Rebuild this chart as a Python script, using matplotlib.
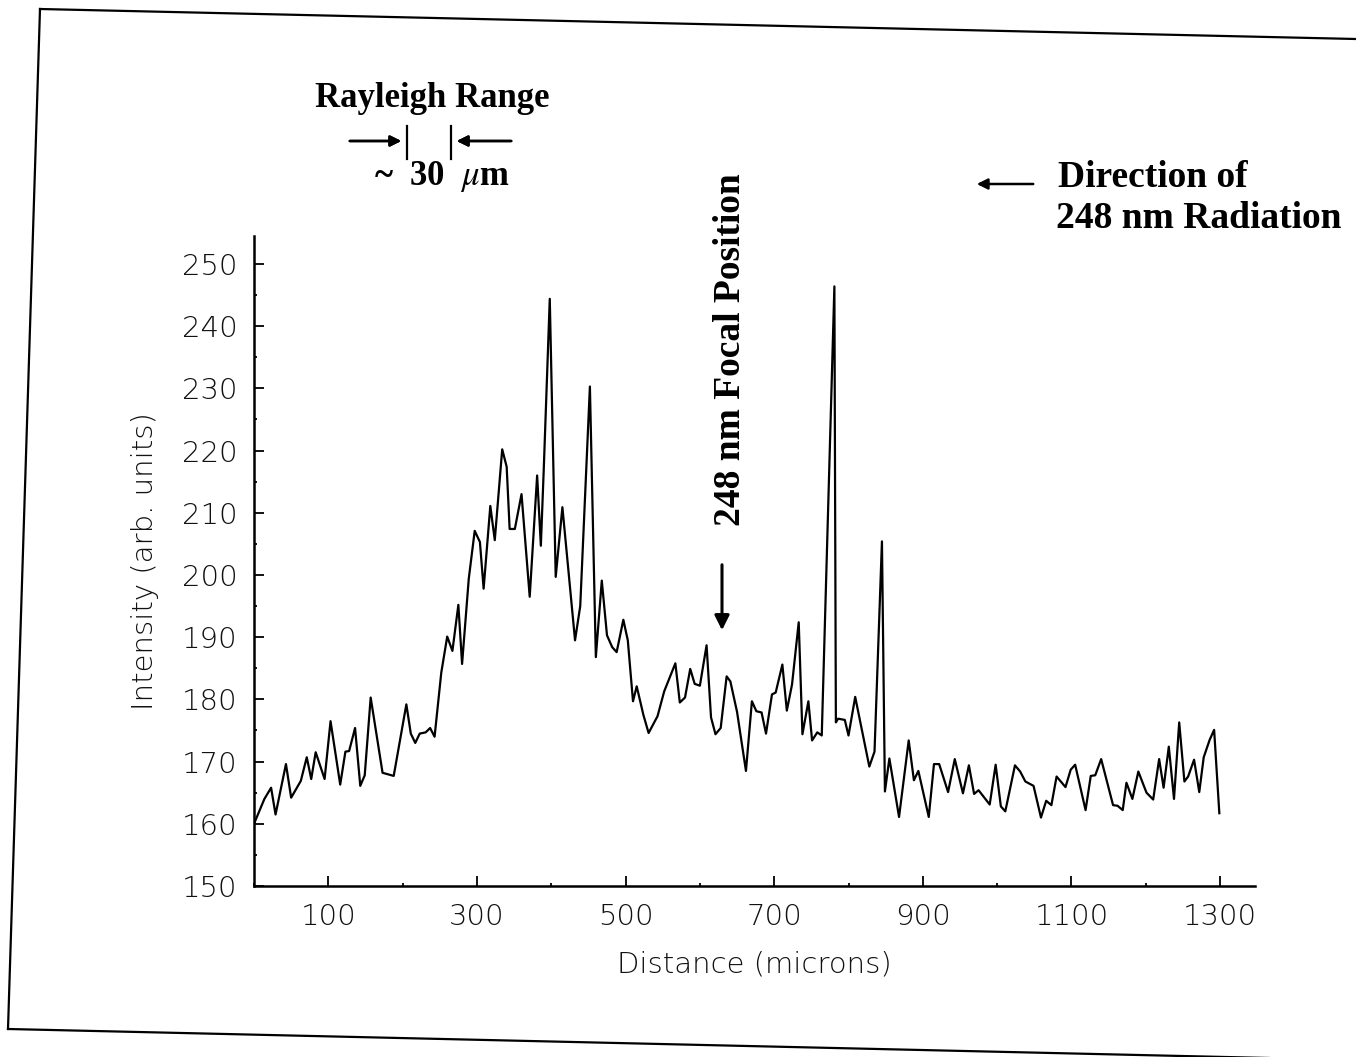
import numpy as np
import matplotlib
matplotlib.use("Agg")
import matplotlib.pyplot as plt
from matplotlib.lines import Line2D
from matplotlib.ticker import MultipleLocator

plt.rcParams["mathtext.fontset"] = "stix"

# intensity profile (distance in microns, intensity arb. units)
distance = [0, 14, 23, 29, 43, 50, 63, 71, 77, 83, 95, 103, 116, 123, 128, 136, 143, 149,
            157, 173, 188, 205, 211, 217, 223, 231, 237, 243, 252, 260, 267, 275, 280, 289,
            297, 304, 309, 318, 324, 334, 340, 344, 351, 360, 371, 381, 386, 390, 398, 406,
            415, 432, 439, 452, 460, 468, 475, 482, 488, 497, 503, 510, 515, 524, 531, 543,
            552, 567, 573, 580, 587, 593, 600, 609, 615, 621, 628, 636, 641, 650, 662, 670,
            676, 683, 689, 697, 702, 711, 717, 724, 733, 738, 746, 751, 758, 764, 781, 783,
            786, 795, 800, 809, 828, 835, 845, 849, 855, 868, 881, 888, 894, 908, 915, 922,
            934, 943, 954, 962, 969, 975, 990, 998, 1005, 1011, 1024, 1031, 1038, 1049, 1059,
            1066, 1073, 1080, 1092, 1099, 1105, 1119, 1126, 1132, 1140, 1156, 1162, 1169,
            1174, 1182, 1190, 1201, 1210, 1218, 1224, 1231, 1238, 1245, 1252, 1257, 1265,
            1272, 1278, 1286, 1292, 1299]
intensity = [160.0, 164.0, 165.8, 161.5, 169.6, 164.2, 166.9, 170.7, 167.2, 171.5, 167.2,
             176.5, 166.3, 171.6, 171.7, 175.4, 166.1, 167.8, 180.3, 168.2, 167.7, 179.2,
             174.5, 173.0, 174.5, 174.7, 175.4, 174.0, 184.3, 190.1, 187.8, 195.2, 185.7,
             199.4, 207.1, 205.3, 197.8, 211.1, 205.6, 220.2, 217.4, 207.4, 207.4, 213.0,
             196.5, 216.0, 204.7, 217.3, 244.4, 199.7, 210.9, 189.5, 195.0, 230.3, 186.8,
             199.1, 190.3, 188.4, 187.6, 192.8, 189.5, 179.7, 182.1, 177.5, 174.6, 177.3,
             181.3, 185.8, 179.5, 180.3, 184.9, 182.5, 182.2, 188.7, 177.1, 174.4, 175.4,
             183.7, 182.9, 178.0, 168.5, 179.7, 178.1, 177.9, 174.5, 180.8, 181.1, 185.6,
             178.2, 182.4, 192.4, 174.4, 179.7, 173.4, 174.7, 174.2, 246.4, 176.3, 176.9,
             176.7, 174.2, 180.4, 169.2, 171.6, 205.4, 165.2, 170.5, 161.1, 173.4, 167.0,
             168.5, 161.1, 169.6, 169.6, 165.1, 170.4, 164.9, 169.4, 164.8, 165.4, 163.1,
             169.5, 162.8, 162.0, 169.4, 168.4, 166.8, 166.1, 161.0, 163.7, 163.0, 167.6,
             165.9, 168.7, 169.5, 162.2, 167.7, 167.8, 170.4, 163.0, 162.9, 162.2, 166.6,
             164.0, 168.4, 165.0, 163.9, 170.4, 165.8, 172.4, 164.0, 176.3, 166.8, 167.6,
             170.3, 165.1, 170.7, 173.5, 175.1, 161.7]

x_ticks = [100, 300, 500, 700, 900, 1100, 1300]
y_ticks = list(range(150, 251, 10))

W, H = 1356, 1057

def fx(px):
    return px / W

def fy(py):
    return 1 - py / H

fig = plt.figure(figsize=(W / 100, H / 100), dpi=100)
ax = fig.add_axes([fx(254), fy(886), fx(1255) - fx(254), fy(236) - fy(886)])

ax.plot(distance, intensity, color="black", lw=1.6)

ax.set_xlim(0, 1347)
ax.set_ylim(150, 254.5)
ax.set_xticks(x_ticks)
ax.set_yticks(y_ticks)
ax.xaxis.set_minor_locator(MultipleLocator(100))
ax.yaxis.set_minor_locator(MultipleLocator(5))
for s in ["top", "right"]:
    ax.spines[s].set_visible(False)
for s in ["left", "bottom"]:
    ax.spines[s].set_linewidth(1.8)

ax.tick_params(which="major", direction="in", length=7, width=1.3, labelsize=21, pad=12)
ax.tick_params(which="minor", direction="in", length=2, width=1.3)
for lab in ax.get_xticklabels() + ax.get_yticklabels():
    lab.set_fontweight("light")
    lab.set_color("#111111")

ax.set_xlabel("Distance (microns)", fontsize=21, fontweight="light", labelpad=14, color="#111111")
ax.set_ylabel("Intensity (arb. units)", fontsize=21, fontweight="light", labelpad=16, color="#111111")

serif = dict(family="Liberation Serif", weight="bold")

# Rayleigh range note
fig.text(fx(432), fy(107), "Rayleigh Range", ha="center", va="baseline", fontsize=25, **serif)
fig.text(fx(442), fy(185), "~  30  $\\mu$m", ha="center", va="baseline", fontsize=25, **serif)
arrow = dict(arrowstyle="-|>", color="black", lw=1.8, mutation_scale=16)
fig.add_artist(plt.annotate("", xy=(fx(404), fy(141)), xytext=(fx(347), fy(141)),
                            xycoords="figure fraction", arrowprops=arrow))
fig.add_artist(plt.annotate("", xy=(fx(454), fy(141)), xytext=(fx(514), fy(141)),
                            xycoords="figure fraction", arrowprops=arrow))
for bx in [407, 451]:
    fig.add_artist(Line2D([fx(bx), fx(bx)], [fy(126), fy(159)], color="black", lw=1.6))

# focal position note
fig.text(fx(731), fy(350), "248 nm Focal Position", rotation=90, ha="center", va="center",
         fontsize=27, **serif)
ax.annotate("", xy=(fx(722), fy(633)), xytext=(fx(722), fy(562)),
            xycoords="figure fraction",
            arrowprops=dict(arrowstyle="-|>", color="black", lw=2.2, mutation_scale=22))

# direction note
fig.text(fx(1058), fy(187), "Direction of", ha="left", va="baseline", fontsize=27, **serif)
fig.text(fx(1056), fy(228), "248 nm Radiation", ha="left", va="baseline", fontsize=27, **serif)
ax.annotate("", xy=(fx(974), fy(184)), xytext=(fx(1036), fy(184)),
            xycoords="figure fraction", arrowprops=arrow)

# frame of the scanned page
frame = [((40, 9), (1356, 39)), ((40, 9), (8, 1029)), ((8, 1029), (1356, 1060))]
for (x0, y0), (x1, y1) in frame:
    fig.add_artist(Line2D([fx(x0), fx(x1)], [fy(y0), fy(y1)], color="black", lw=1.6))

fig.savefig("out.png", dpi=100)
